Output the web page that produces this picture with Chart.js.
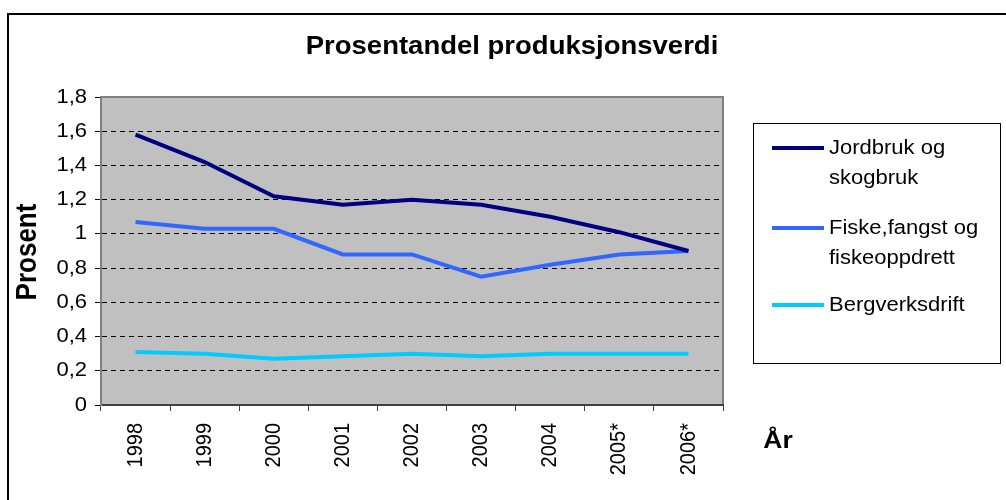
<!DOCTYPE html>
<html>
<head>
<meta charset="utf-8">
<script src="https://cdn.jsdelivr.net/npm/chart.js@4.4.0/dist/chart.umd.min.js"></script>
<style>
  html, body { margin: 0; padding: 0; background: #fff; }
  #wrap { width: 1006px; height: 500px; }
</style>
</head>
<body>
<div id="wrap"><canvas id="prosentChart" width="1006" height="500"></canvas></div>
<script>
const aar = ['1998', '1999', '2000', '2001', '2002', '2003', '2004', '2005*', '2006*'];
const jordbruk = [1.58, 1.42, 1.22, 1.17, 1.20, 1.17, 1.10, 1.01, 0.90];
const fiske = [1.07, 1.03, 1.03, 0.88, 0.88, 0.75, 0.82, 0.88, 0.90];
const bergverk = [0.31, 0.30, 0.27, 0.285, 0.30, 0.285, 0.30, 0.30, 0.30];
const serieNavn = [['Jordbruk og', 'skogbruk'], ['Fiske,fangst og', 'fiskeoppdrett'], ['Bergverksdrift']];
const serieFarger = ['#000080', '#3366FF', '#00CCFF'];
const tittel = 'Prosentandel produksjonsverdi';
const yTittel = 'Prosent';
const xTittel = 'År';

// teksten i originalen er strukket litt i bredden
const STREKK = 1.1;
const FONT = 'Arial, "Liberation Sans", sans-serif';

function tekst(ctx, s, x, y, opt) {
    ctx.save();
    ctx.translate(x, y);
    ctx.scale(STREKK, 1);
    if (opt.rot) ctx.rotate(-Math.PI / 2);
    ctx.font = opt.font;
    ctx.textAlign = opt.align || 'center';
    ctx.textBaseline = opt.base || 'middle';
    ctx.fillStyle = '#000';
    ctx.fillText(s, 0, 0);
    ctx.restore();
}

function formatTall(v) {
    return String(Number(v.toFixed(1))).replace('.', ',');
}

const bakgrunn = {
    id: 'bakgrunn',
    beforeDraw(chart) {
        const ctx = chart.ctx;
        const a = chart.chartArea;
        ctx.save();
        ctx.fillStyle = '#fff';
        ctx.fillRect(0, 0, chart.width, chart.height);
        ctx.strokeStyle = '#000';
        ctx.lineWidth = 2;
        ctx.strokeRect(8, 14, 1200, 700);
        ctx.fillStyle = '#C0C0C0';
        ctx.fillRect(a.left, a.top, a.right - a.left, a.bottom - a.top);
        ctx.strokeStyle = '#808080';
        ctx.lineWidth = 2;
        ctx.strokeRect(a.left, a.top, a.right - a.left, a.bottom - a.top);
        ctx.restore();
    }
};

const tekster = {
    id: 'tekster',
    afterDraw(chart) {
        const ctx = chart.ctx;
        const xs = chart.scales.x;
        const ys = chart.scales.y;
        const tickFont = '20px ' + FONT;

        tekst(ctx, tittel, 512, 47, { font: 'bold 25px ' + FONT });
        tekst(ctx, yTittel, 28, 252, { font: 'bold 26px ' + FONT, rot: true });
        tekst(ctx, xTittel, 778, 441, { font: 'bold 24px ' + FONT });

        ys.ticks.forEach(t => {
            tekst(ctx, formatTall(t.value), xs.left - 14, ys.getPixelForValue(t.value), { font: tickFont, align: 'right' });
        });
        xs.ticks.forEach((t, i) => {
            tekst(ctx, xs.getLabelForValue(t.value), xs.getPixelForTick(i), 423, { font: tickFont, align: 'right', rot: true });
        });

        // forklaring
        ctx.save();
        ctx.fillStyle = '#fff';
        ctx.fillRect(753, 123, 247, 240);
        ctx.strokeStyle = '#000';
        ctx.lineWidth = 1;
        ctx.strokeRect(753.5, 123.5, 247, 240);
        ctx.restore();
        const radY = [148, 228, 305];
        chart.data.datasets.forEach((ds, i) => {
            ctx.save();
            ctx.strokeStyle = ds.borderColor;
            ctx.lineWidth = 4;
            ctx.beginPath();
            ctx.moveTo(772, radY[i]);
            ctx.lineTo(824, radY[i]);
            ctx.stroke();
            ctx.restore();
            serieNavn[i].forEach((linje, j) => {
                tekst(ctx, linje, 829, radY[i] + j * 30, { font: tickFont, align: 'left' });
            });
        });
    }
};

const ctx = document.getElementById('prosentChart').getContext('2d');
const chart = new Chart(ctx, {
    type: 'line',
    data: {
        labels: aar,
        datasets: [
            { label: serieNavn[0].join(' '), data: jordbruk, borderColor: serieFarger[0], backgroundColor: serieFarger[0] },
            { label: serieNavn[1].join(' '), data: fiske, borderColor: serieFarger[1], backgroundColor: serieFarger[1] },
            { label: serieNavn[2].join(' '), data: bergverk, borderColor: serieFarger[2], backgroundColor: serieFarger[2] }
        ]
    },
    options: {
        responsive: false,
        animation: false,
        devicePixelRatio: 1,
        layout: { padding: { top: 97, right: 283, left: 0, bottom: 0 } },
        plugins: {
            legend: { display: false },
            title: { display: false },
            tooltip: { enabled: false }
        },
        elements: {
            point: { radius: 0 },
            line: { borderWidth: 4, tension: 0 }
        },
        scales: {
            x: {
                offset: true,
                ticks: { display: false },
                grid: { offset: true, drawOnChartArea: false, tickLength: 6, color: '#404040', tickColor: '#404040' },
                border: { color: '#404040', width: 2 },
                afterFit: s => { s.height = 95; }
            },
            y: {
                min: 0,
                max: 1.8,
                ticks: { stepSize: 0.2, display: false },
                grid: {
                    color: c => (c.tick && (c.tick.value < 0.01 || c.tick.value > 1.79)) ? 'rgba(0,0,0,0)' : '#000',
                    tickColor: '#000',
                    tickLength: 6,
                    lineWidth: 1
                },
                border: { color: '#808080', width: 2, dash: [5, 4] },
                afterFit: s => { s.width = 101; }
            }
        }
    },
    plugins: [bakgrunn, tekster]
});
</script>
</body>
</html>
